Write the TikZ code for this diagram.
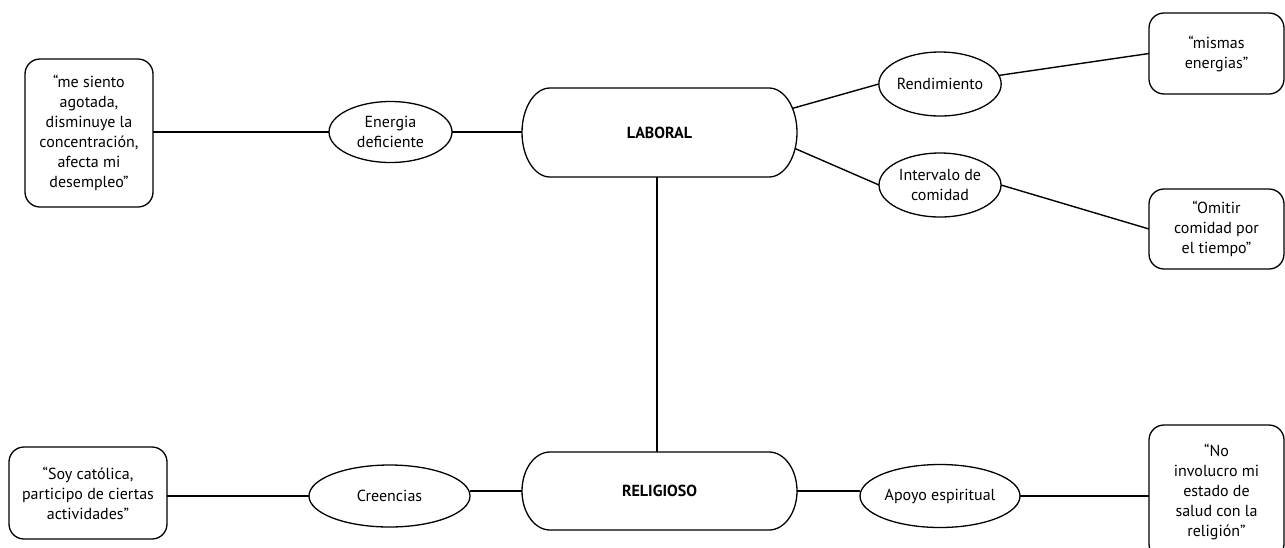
\documentclass[tikz,border=0pt]{standalone}
\usepackage{fontspec}
\setmainfont{PT Sans}
\usetikzlibrary{shapes.geometric,calc}
\begin{document}
\begin{tikzpicture}[x=1pt,y=-1pt,
  txt/.style={font=\fontsize{16}{20}\selectfont, align=center, text=black},
  quote/.style={txt, draw, line width=1.3pt, rounded corners=15pt, inner sep=0pt, outer sep=0pt},
  oval/.style={txt, draw, ellipse, line width=1.3pt, inner sep=0pt, outer sep=0pt},
  hub/.style={font=\fontsize{16}{20}\selectfont\bfseries, inner sep=0pt, outer sep=0pt, minimum width=275pt},
  hubline/.style={line width=1.3pt},
  hline/.style={line width=2pt},
  dline/.style={line width=1.4pt}]
\clip (0,0) rectangle (1285,547);
\fill[white] (0,0) rectangle (1285,547);

% nodes
\node[quote, minimum width=128pt, minimum height=148pt] (me) at (89,133)
  {“me siento\\agotada,\\disminuye la\\concentración,\\afecta mi\\desempleo”};
\node[oval, minimum width=123pt, minimum height=61pt] (ene) at (390.5,132) {Energia\\deficiente};
\node[hub, minimum height=89pt] (lab) at (659.5,132.5) {LABORAL};
\node[oval, minimum width=122pt, minimum height=64pt] (ren) at (940,84) {Rendimiento};
\node[oval, minimum width=122pt, minimum height=64pt] (int) at (940,185) {Intervalo de\\comidad};
\node[quote, minimum width=135pt, minimum height=81pt] (mis) at (1216.5,53.5) {“mismas\\energias”};
\node[quote, minimum width=135pt, minimum height=80pt] (omi) at (1216.5,229) {“Omitir\\comidad por\\el tiempo”};

\node[hub, minimum height=78pt] (rel) at (659.5,491) {RELIGIOSO};
\node[quote, minimum width=158pt, minimum height=92pt] (soy) at (88,493)
  {“Soy católica,\\participo de ciertas\\actividades”};
\node[oval, minimum width=161pt, minimum height=62pt] (cre) at (389.5,496) {Creencias};
\node[oval, minimum width=160pt, minimum height=63pt] (apo) at (940,496) {Apoyo espiritual};
\node[quote, minimum width=135pt, minimum height=134pt] (nob) at (1216.5,492)
  {“No\\involucro mi\\estado de\\salud con la\\religión”};

% hub outlines
\draw[hubline] ([xshift=28pt]lab.north west) -- ([xshift=-28pt]lab.north east)
  arc[start angle=90, end angle=-90, x radius=28pt, y radius=44.5pt]
  -- ([xshift=28pt]lab.south west)
  arc[start angle=270, end angle=90, x radius=28pt, y radius=44.5pt] -- cycle;
\draw[hubline] ([xshift=28pt]rel.north west) -- ([xshift=-28pt]rel.north east)
  arc[start angle=90, end angle=-90, x radius=28pt, y radius=39pt]
  -- ([xshift=28pt]rel.south west)
  arc[start angle=270, end angle=90, x radius=28pt, y radius=39pt] -- cycle;

% connectors
\draw[hline] (me.east |- ene.west) -- (ene.west);
\draw[hline] (ene.east) -- (ene.east -| lab.west);
\draw[dline] ([shift={(-5,-24)}]lab.east) -- (ren.west);
\draw[dline] ([shift={(-2,16)}]lab.east) -- (int.west);
\draw[dline] (ren) -- (mis.west);
\draw[dline] (int.east) -- (omi.west);
\draw[hline] ([xshift=-2.5pt]lab.south) -- ([xshift=-2.5pt]rel.north);
\draw[hline] (soy.east |- cre.west) -- (cre.west);
\draw[hline] (cre.east |- rel.west) -- (rel.west);
\draw[hline] (rel.east) -- (rel.east -| apo.west);
\draw[hline] (apo.east) -- (apo.east -| nob.west);
\end{tikzpicture}
\end{document}
